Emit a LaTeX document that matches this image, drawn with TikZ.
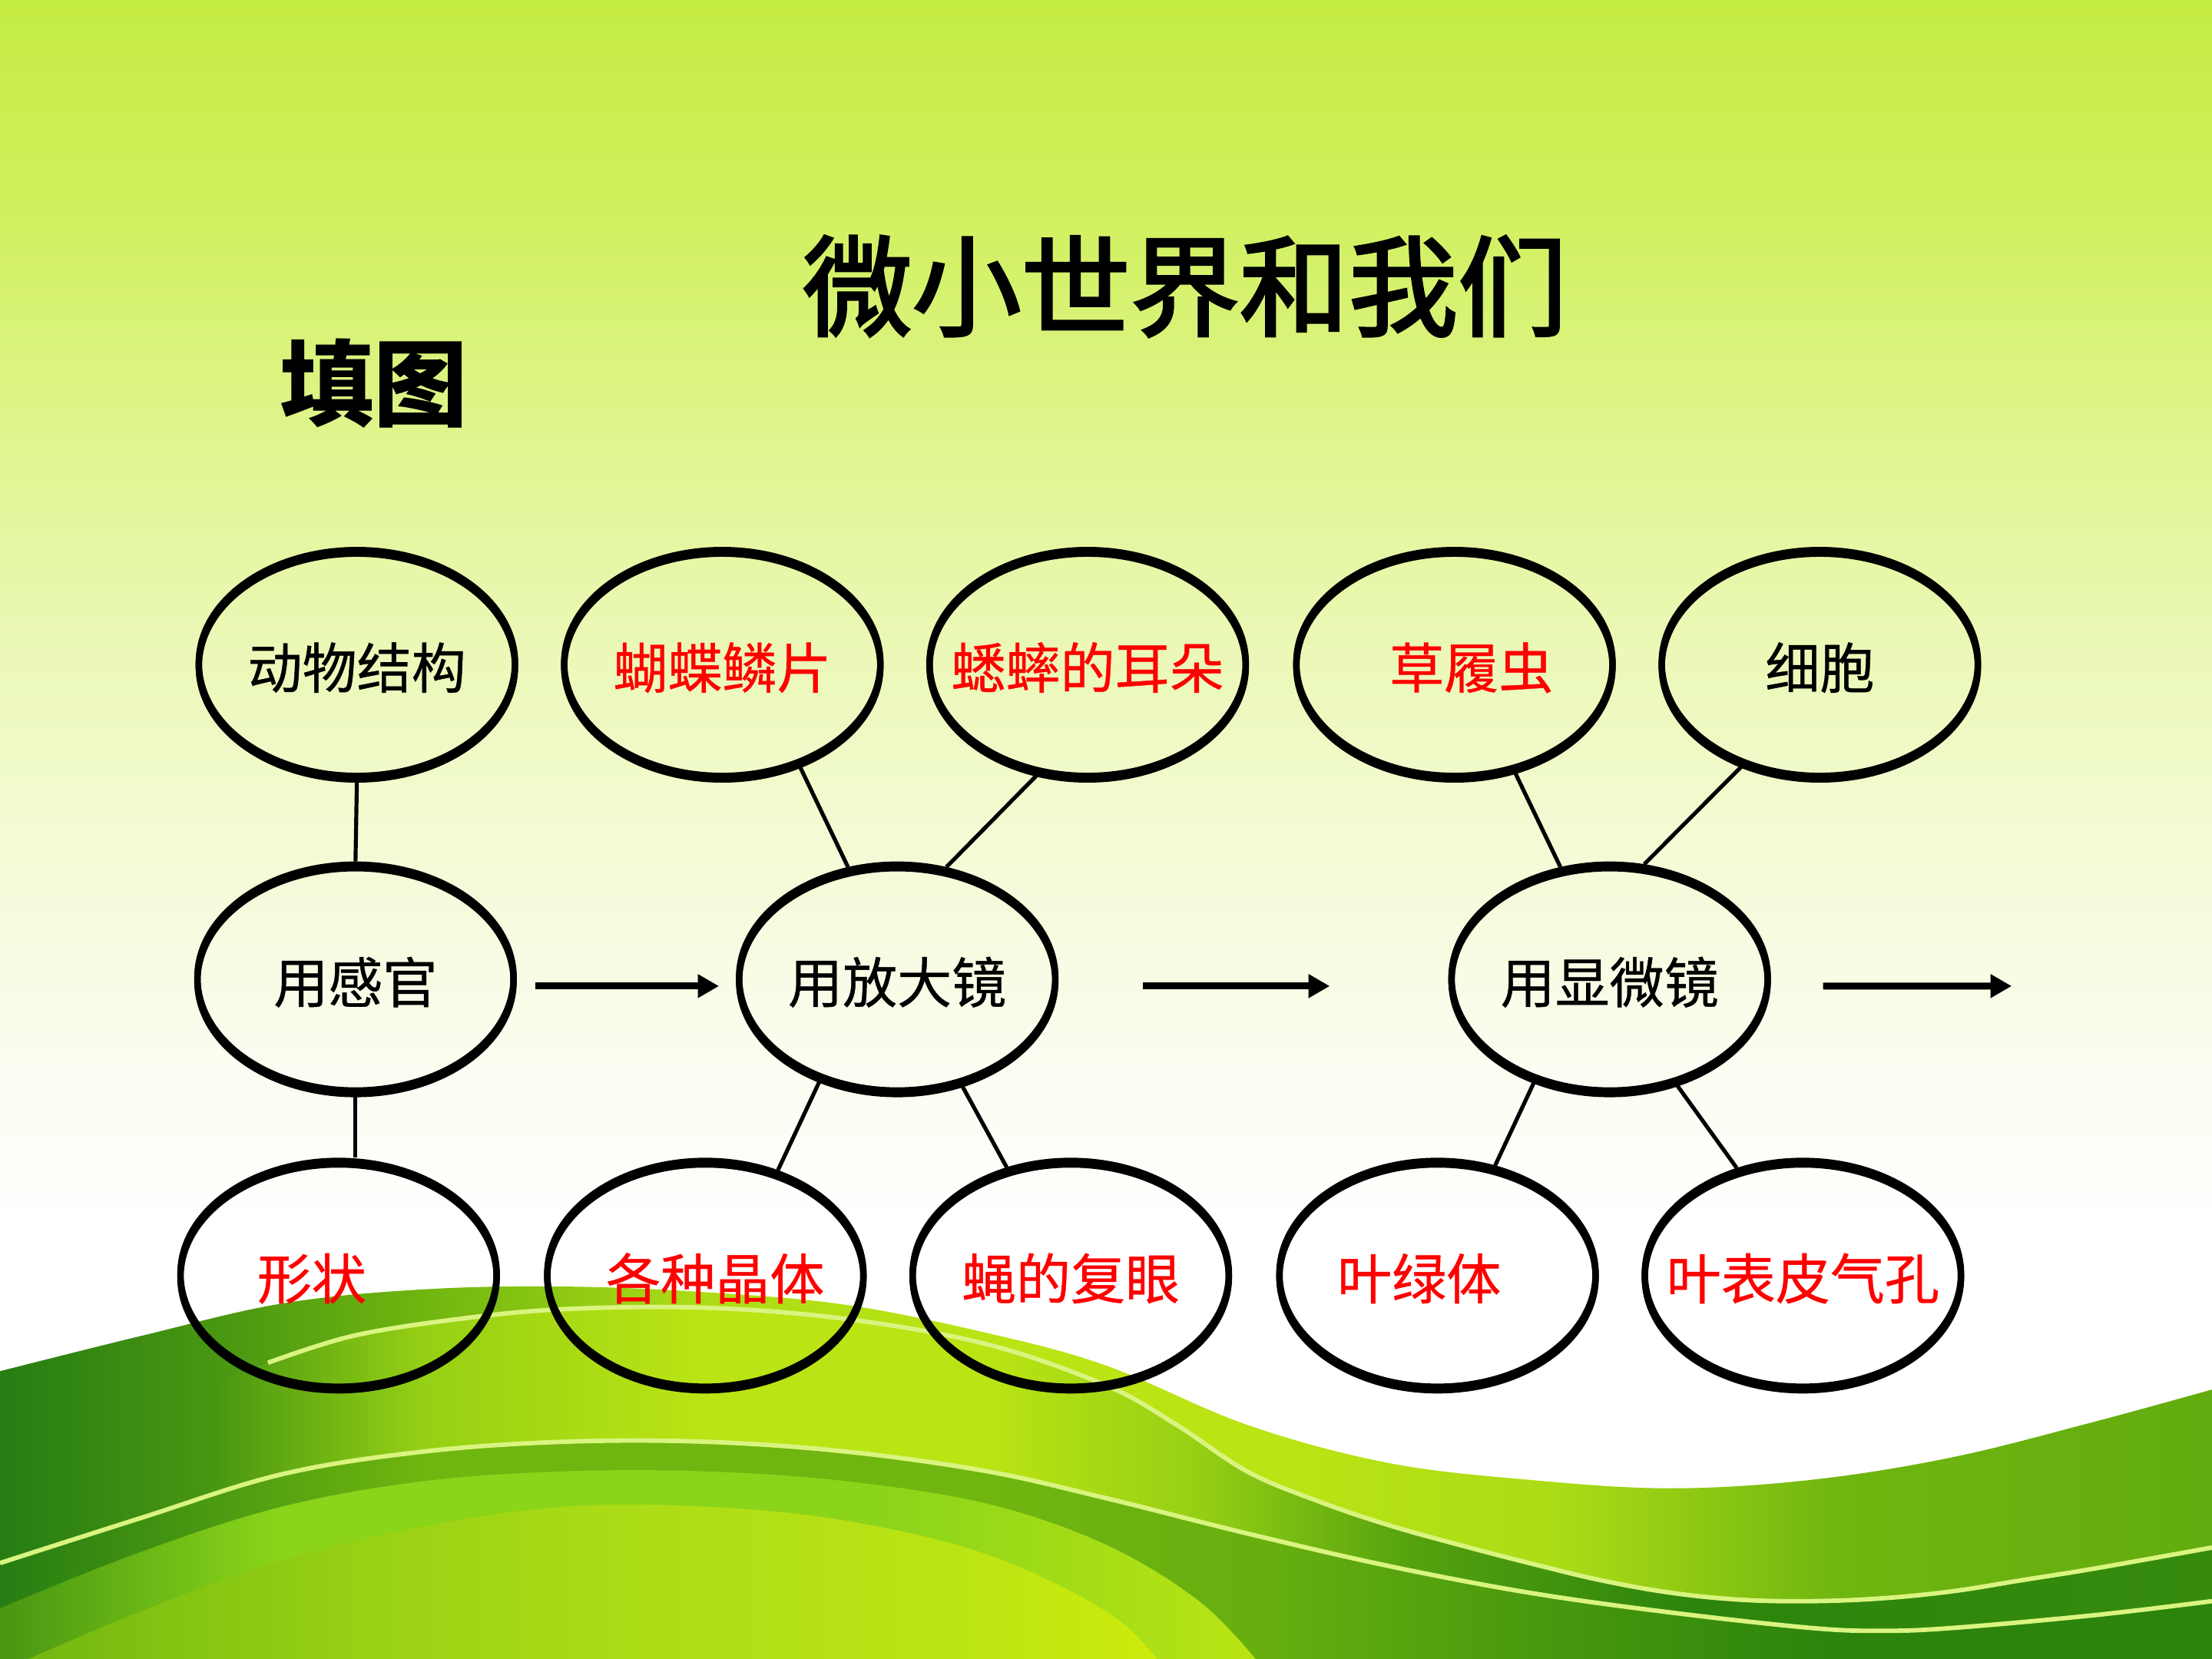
\documentclass[tikz,border=0pt]{standalone}
\usepackage{fontspec}
\usepackage{tikz}
\usetikzlibrary{arrows.meta, positioning, shapes.geometric}
\newfontfamily\cjk[FakeBold=0.6]{Noto Sans CJK SC}
\newfontfamily\cjkhead[FakeBold=2.5]{Noto Sans CJK SC}
\newfontfamily\cjkplain{Noto Sans CJK SC}
\usepackage{xcolor}

\definecolor{skytop}{RGB}{196,235,66}
\definecolor{sky1}{RGB}{208,240,92}
\definecolor{sky2}{RGB}{222,245,140}
\definecolor{sky3}{RGB}{234,248,180}
\definecolor{sky4}{RGB}{243,251,215}
\definecolor{sky5}{RGB}{250,253,240}
\definecolor{g0}{RGB}{38,125,18}
\definecolor{g1}{RGB}{72,150,18}
\definecolor{g2}{RGB}{112,182,16}
\definecolor{g3}{RGB}{150,208,20}
\definecolor{g4}{RGB}{172,220,22}
\definecolor{g5}{RGB}{186,228,20}
\definecolor{gdeep}{RGB}{44,132,12}
\definecolor{gbright}{RGB}{138,212,26}
\definecolor{gyellow}{RGB}{205,235,12}
\definecolor{gline}{RGB}{218,244,128}

\pgfdeclareverticalshading{sky}{100bp}{color(0bp)=(white); color(38bp)=(white);
  color(43bp)=(sky5); color(49bp)=(sky4); color(56bp)=(sky3); color(62bp)=(sky2);
  color(69bp)=(sky1); color(75bp)=(skytop); color(100bp)=(skytop)}
% x (of 1568) -> 25bp + 50bp*x/1568
\pgfdeclarehorizontalshading{hill}{100bp}{color(0bp)=(g0); color(25bp)=(g0);
  color(29.8bp)=(g1); color(34.6bp)=(g2); color(40.9bp)=(g4); color(47.3bp)=(g5);
  color(53.7bp)=(g5); color(60.1bp)=(g4); color(66.5bp)=(g2); color(75bp)=(g2!80!gdeep);
  color(100bp)=(g2!80!gdeep)}
\pgfdeclarehorizontalshading{band}{100bp}{color(0bp)=(g0); color(25bp)=(g0);
  color(29.8bp)=(g1); color(34.6bp)=(g3); color(40.9bp)=(g5); color(47.3bp)=(g5);
  color(52bp)=(g3); color(56.9bp)=(g2!60!gdeep); color(63.3bp)=(gdeep); color(75bp)=(gdeep!85!g2);
  color(100bp)=(gdeep)}
\pgfdeclarehorizontalshading{under}{100bp}{color(0bp)=(g0); color(25bp)=(g0);
  color(34.6bp)=(g2); color(47.3bp)=(g2); color(53.7bp)=(g2!85!gdeep); color(60.1bp)=(g2!40!gdeep);
  color(66.5bp)=(gdeep); color(75bp)=(gdeep); color(100bp)=(gdeep)}
% bright band, path 0..890
\pgfdeclarehorizontalshading{bright}{100bp}{color(0bp)=(g1); color(25bp)=(g1);
  color(36bp)=(gbright); color(60bp)=(gbright); color(75bp)=(g5); color(100bp)=(g5)}
% lime field, path 0..820
\pgfdeclarehorizontalshading{lime}{100bp}{color(0bp)=(g2); color(25bp)=(g2);
  color(40bp)=(g3); color(52bp)=(g4); color(66bp)=(g5); color(75bp)=(gyellow); color(100bp)=(gyellow)}

\begin{document}
\begin{tikzpicture}[x=0.01cm, y=-0.01cm,
    bubble/.style={ellipse, draw, line width=1.3pt, minimum width=2.24cm, minimum height=1.6cm,
      inner xsep=-0.25cm, inner ysep=0pt, text height=11.5pt, text depth=1.3pt,
      font=\cjk\fontsize{11pt}{13pt}\selectfont,
      postaction={draw, line width=1.3pt, transform canvas={yshift=-0.7pt}}},
    answer/.style={bubble, text=red},
    link/.style={line width=0.8pt},
    flow/.style={line width=1.4pt, -{Triangle[length=0.15cm, width=0.16cm]}},
    glow/.style={gline, line width=0.9pt}]
    \useasboundingbox (0,0) rectangle (1568,1176);

    % Background: sky and green hills
    \begin{scope}
    \clip (0,0) rectangle (1568,1176);
    \shade[shading=sky] (0,0) rectangle (1568,1176);
    \shade[shading=hill] (0,1176) -- plot[smooth, tension=0.6] coordinates {(0,972) (100,947)
      (200,924) (300,914) (400,912) (500,916) (600,925) (700,945) (784,968) (884,1010) (984,1037)
      (1084,1049) (1184,1055) (1284,1049) (1384,1033) (1484,1008) (1568,985)} -- (1568,1176) -- cycle;
    \shade[shading=band] plot[smooth, tension=0.6] coordinates {(0,1070) (100,1005) (190,966)
      (250,947) (325,935) (400,928) (500,927) (600,935) (700,953) (784,982) (834,1010) (884,1043)
      (934,1064) (984,1081) (1034,1095) (1084,1108) (1134,1120) (1184,1129) (1234,1134) (1284,1135)
      (1334,1133) (1384,1128) (1434,1120) (1484,1112) (1568,1097)}
      -- plot[smooth, tension=0.6] coordinates {(1568,1135) (1484,1145) (1384,1154) (1334,1156)
      (1284,1154) (1184,1143) (1084,1129) (984,1110) (884,1087) (784,1062) (700,1043) (600,1029)
      (500,1022) (400,1022) (300,1029) (200,1045) (100,1076) (0,1108)} -- cycle;
    \shade[shading=under] plot[smooth, tension=0.6] coordinates {(0,1108) (100,1076) (200,1045)
      (300,1029) (400,1022) (500,1022) (600,1029) (700,1043) (784,1062) (884,1087) (984,1110)
      (1084,1129) (1184,1143) (1284,1154) (1334,1156) (1384,1154) (1484,1145) (1568,1135)}
      -- (1568,1176) -- (0,1176) -- cycle;
    \shade[shading=bright] plot[smooth, tension=0.6] coordinates {(0,1140) (100,1100) (200,1068)
      (300,1050) (400,1043) (500,1043) (600,1050) (700,1066) (784,1095) (850,1135) (890,1176)}
      -- (0,1176) -- cycle;
    \shade[shading=lime] plot[smooth, tension=0.6] coordinates {(0,1185) (100,1142) (200,1106)
      (300,1082) (400,1068) (500,1068) (600,1078) (700,1102) (784,1142) (820,1176)}
      -- (0,1185) -- cycle;
    \draw[glow] plot[smooth, tension=0.6] coordinates {(190,966) (250,947) (325,935) (400,928)
      (500,927) (600,935) (700,953) (784,982) (834,1010) (884,1043) (934,1064) (984,1081)
      (1034,1095) (1084,1108) (1134,1120) (1184,1129) (1234,1134) (1284,1135) (1334,1133)
      (1384,1128) (1434,1120) (1484,1112) (1568,1097)};
    \draw[glow] plot[smooth, tension=0.6] coordinates {(0,1108) (100,1076) (200,1045) (300,1029)
      (400,1022) (500,1022) (600,1029) (700,1043) (784,1062) (884,1087) (984,1110) (1084,1129)
      (1184,1143) (1284,1154) (1334,1156) (1384,1154) (1484,1145) (1568,1135)};
    \end{scope}

    % Titles
    \node[font=\cjkhead\fontsize{22pt}{26pt}\selectfont] (title) at (840,203) {微小世界和我们};
    \node[font=\cjkplain\bfseries\fontsize{19pt}{22pt}\selectfont] (task) at (265,272) {填图};

    % Top row
    \node[bubble] (dwjg) at (253,470) {动物结构};
    \node[answer] (hdlp) at (512,470) {蝴蝶鳞片};
    \node[answer] (xsed) at (771,470) {蟋蟀的耳朵};
    \node[answer] (clc) at (1031,470) {\hspace{0.24cm}草履虫};
    \node[bubble] (xb) at (1290,470) {细胞};

    % Middle row: the tools
    \node[bubble] (ygg) at (252,693) {用感官};
    \node[bubble] (yfdj) at (636,693) {用放大镜};
    \node[bubble] (yxwj) at (1141,693) {用显微镜};

    % Bottom row
    \node[answer] (xz) at (240,903) {形状\rule{0.38cm}{0pt}};
    \node[answer] (gzjt) at (500,903) {\hspace{0.14cm}各种晶体};
    \node[answer] (ydfy) at (759,903) {蝇的复眼};
    \node[answer] (ylt) at (1019,903) {叶绿体\rule{0.26cm}{0pt}};
    \node[answer] (ybpqk) at (1278,903) {叶表皮气孔};

    % Links
    \draw[link] (dwjg.south) -- (ygg.north);
    \draw[link] (ygg.south) -- (ygg.south |- xz.north);
    \draw[link] (hdlp.-53) -- (yfdj.114);
    \draw[link] (xsed.246) -- (yfdj.66);
    \draw[link] (yfdj.233) -- (gzjt.55);
    \draw[link] (yfdj.301) -- (ydfy.121);
    \draw[link] (clc.299) -- (yxwj.114);
    \draw[link] (xb.233) -- (yxwj.73);
    \draw[link] (yxwj.234) -- (ylt.62);
    \draw[link] (yxwj.302) -- (ybpqk.122);

    % Arrows
    \coordinate (next) at (1426,699);
    \draw[flow, shorten <=0.13cm, shorten >=0.12cm] ([yshift=-0.06cm]ygg.east) -- ([yshift=-0.06cm]yfdj.west);
    \draw[flow, shorten <=0.6cm, shorten >=0.84cm] ([yshift=-0.06cm]yfdj.east) -- ([yshift=-0.06cm]yxwj.west);
    \draw[flow, shorten <=0.37cm] ([yshift=-0.06cm]yxwj.east) -- (next);
\end{tikzpicture}
\end{document}
